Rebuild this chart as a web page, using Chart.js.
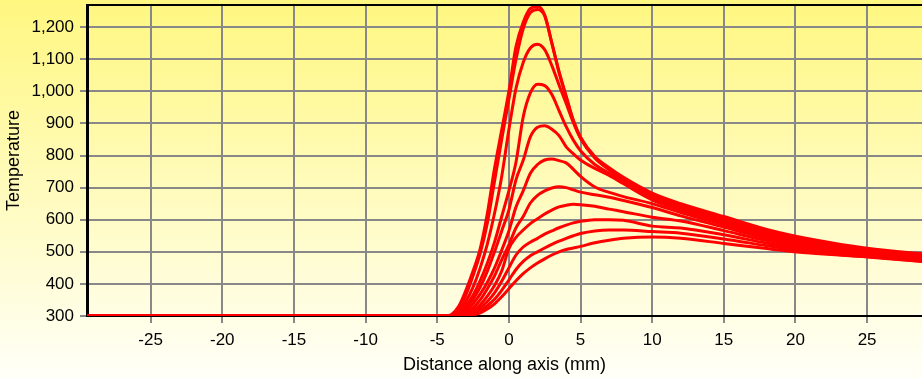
<!DOCTYPE html>
<html>
<head>
<meta charset="utf-8">
<script src="https://cdn.jsdelivr.net/npm/chart.js@4/dist/chart.umd.min.js"></script>
<style>
html, body { margin: 0; padding: 0; overflow: hidden; background: #fff; }
</style>
</head>
<body>
<canvas id="chart" width="922" height="378"></canvas>
<script>
'use strict';

// distance along axis (mm), shared by every curve
var distance = [-29.5, -5, -4.5, -4, -3.5, -3, -2.5, -2, -1.5, -1, -0.5, 0, 0.5, 1, 1.5, 2,
    2.5, 3, 3.5, 4, 4.5, 5, 6, 7, 8, 10, 12, 15, 18, 21, 25, 29.5]

// temperature curves, hottest first
var curve1 = [300, 300, 300, 305, 330, 380, 440, 510, 620, 760, 880, 1000, 1140, 1215, 1258, 1264,
    1238, 1150, 1058, 982, 908, 857, 797, 762, 732, 683, 650, 610, 570, 540, 511, 491]
var curve2 = [300, 300, 300, 302, 322, 365, 425, 495, 590, 720, 850, 975, 1100, 1195, 1245, 1255,
    1235, 1150, 1062, 985, 910, 856, 794, 758, 727, 678, 646, 606, 566, 537, 508, 488]
var curve3 = [300, 300, 300, 301, 315, 345, 390, 450, 525, 620, 735, 880, 1010, 1090, 1135, 1147,
    1130, 1080, 1020, 962, 902, 853, 792, 755, 724, 673, 641, 601, 562, 534, 505, 485]
var curve4 = [300, 300, 300, 300, 310, 332, 365, 410, 465, 530, 610, 690, 780, 920, 995, 1022,
    1018, 990, 940, 890, 848, 815, 772, 745, 718, 668, 636, 596, 558, 530, 502, 482]
var curve5 = [300, 300, 300, 300, 306, 325, 352, 390, 440, 500, 565, 630, 725, 785, 858, 888,
    893, 882, 862, 827, 805, 786, 760, 738, 712, 662, 630, 590, 553, 526, 499, 480]
var curve6 = [300, 300, 300, 300, 303, 316, 338, 368, 405, 450, 505, 565, 640, 690, 745, 772,
    786, 789, 784, 777, 757, 735, 702, 685, 672, 650, 622, 584, 548, 522, 496, 477]
var curve7 = [300, 300, 300, 300, 301, 310, 325, 350, 385, 425, 475, 522, 575, 610, 652, 676,
    690, 699, 703, 700, 693, 686, 678, 670, 660, 638, 612, 577, 542, 517, 493, 474]
var curve8 = [300, 300, 300, 300, 300, 305, 316, 335, 362, 395, 440, 510, 545, 568, 588, 603,
    618, 630, 640, 645, 648, 647, 642, 633, 625, 608, 596, 566, 535, 511, 490, 472]
var curve9 = [300, 300, 300, 300, 300, 302, 310, 325, 345, 372, 408, 450, 490, 515, 530, 542,
    555, 565, 575, 583, 590, 595, 600, 600, 598, 580, 574, 553, 527, 505, 487, 470]
var curve10 = [300, 300, 300, 300, 300, 301, 306, 316, 332, 352, 380, 412, 445, 470, 488, 500,
    512, 523, 533, 542, 550, 557, 565, 568, 568, 563, 558, 540, 519, 499, 485, 468]
var curve11 = [300, 300, 300, 300, 300, 300, 303, 310, 322, 338, 360, 385, 410, 432, 450, 465,
    478, 490, 500, 507, 512, 517, 528, 536, 542, 546, 542, 526, 510, 496, 484, 467]

var xTicks = [-25, -20, -15, -10, -5, 0, 5, 10, 15, 20, 25]
var yTicks = [300, 400, 500, 600, 700, 800, 900, 1000, 1100, 1200]

var curves = [curve1, curve2, curve3, curve4, curve5, curve6, curve7, curve8, curve9, curve10, curve11]

var tickFont = { family: "'Liberation Sans', Arial, sans-serif", size: 17 }
var titleFont = { family: "'Liberation Sans', Arial, sans-serif", size: 18 }

function toPoints(values) {
    var pts = []
    for (var i = 0; i < values.length; i++) {
        pts.push({ x: distance[i], y: values[i] })
    }
    return pts
}

function fixedTicks(list) {
    return function (scale) {
        scale.ticks = list.map(function (v) { return { value: v } })
    }
}

function noLabelPadding(scale) {
    scale.paddingTop = 0
    scale.paddingBottom = 0
    scale.paddingLeft = 0
    scale.paddingRight = 0
}

var backgroundPlugin = {
    id: 'yellowBackground',
    beforeDraw: function (chart) {
        var ctx = chart.ctx
        var g = ctx.createLinearGradient(0, 0, 0, chart.height)
        g.addColorStop(0, 'rgb(255, 247, 128)')
        g.addColorStop(1, 'rgb(255, 255, 248)')
        ctx.save()
        ctx.fillStyle = g
        ctx.fillRect(0, 0, chart.width, chart.height)
        ctx.restore()
    }
}

var topBorderPlugin = {
    id: 'topBorder',
    afterDraw: function (chart) {
        var a = chart.chartArea
        var ctx = chart.ctx
        ctx.save()
        ctx.strokeStyle = '#000'
        ctx.lineWidth = 2
        ctx.beginPath()
        ctx.moveTo(a.left, a.top)
        ctx.lineTo(a.right, a.top)
        ctx.stroke()
        ctx.restore()
    }
}

var datasets = []
for (var c of curves) {
    datasets.push({
        data: toPoints(c),
        borderColor: 'rgb(255, 0, 0)',
        borderWidth: 3,
        pointRadius: 0,
        fill: false,
        cubicInterpolationMode: 'monotone'
    })
}

var ctx = document.getElementById('chart').getContext('2d')
new Chart(ctx, {
    type: 'line',
    data: { datasets: datasets },
    plugins: [backgroundPlugin, topBorderPlugin],
    options: {
        responsive: false,
        animation: false,
        devicePixelRatio: 1,
        layout: { padding: { top: 5, left: 0, right: 0, bottom: 0 } },
        plugins: {
            legend: { display: false },
            tooltip: { enabled: false }
        },
        scales: {
            x: {
                type: 'linear',
                min: -29.44,
                max: 28.83,
                afterBuildTicks: fixedTicks(xTicks),
                afterFit: function (scale) {
                    scale.height = 62
                    noLabelPadding(scale)
                },
                grid: { color: '#888', lineWidth: 2, tickLength: 7, tickColor: '#888' },
                border: { color: '#000', width: 2 },
                ticks: { color: '#000', font: tickFont, padding: 7, maxRotation: 0 },
                title: {
                    display: true, text: 'Distance along axis (mm)', color: '#000',
                    font: titleFont, padding: { top: 0, bottom: 2 }
                }
            },
            y: {
                type: 'linear',
                min: 300,
                max: 1269,
                afterBuildTicks: fixedTicks(yTicks),
                afterFit: function (scale) {
                    scale.width = 87
                    noLabelPadding(scale)
                },
                grid: { color: '#888', lineWidth: 2, tickLength: 7, tickColor: '#888' },
                border: { color: '#000', width: 3 },
                ticks: {
                    color: '#000', font: tickFont, padding: 6,
                    callback: function (v) { return v.toLocaleString('en-US') }
                },
                title: {
                    display: true, text: 'Temperature', color: '#000',
                    font: titleFont, padding: { top: 3, bottom: 0 }
                }
            }
        }
    }
});
</script>
</body>
</html>
